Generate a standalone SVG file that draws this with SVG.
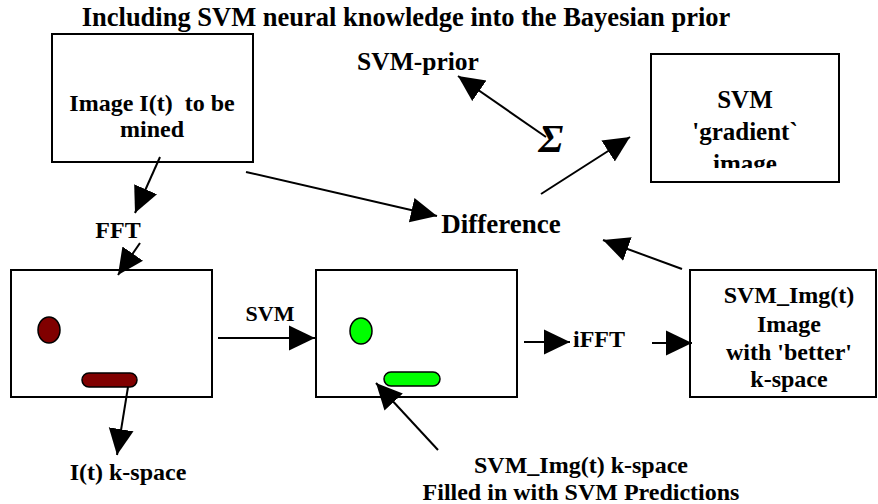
<svg xmlns="http://www.w3.org/2000/svg" width="878" height="504" viewBox="0 0 878 504">
<style>
text{font-family:"Liberation Serif","Times New Roman",serif;font-weight:bold;font-size:24px;fill:#000;text-anchor:middle}
.title{font-size:26.5px}
.big{font-size:27px}
.prior{font-size:25.5px}
.g25{font-size:25px}
.small{font-size:22px}
.sigma{font-size:40px;font-style:italic}
.box{fill:#fff;stroke:#000;stroke-width:2}
.ln{stroke:#000;stroke-width:2;fill:none;marker-end:url(#ah)}
</style>
<defs>
<marker id="ah" markerUnits="userSpaceOnUse" markerWidth="27" markerHeight="27" refX="26" refY="13" orient="auto">
<path d="M0,0.5 L26,13 L0,25.5 z" fill="#000"/>
</marker>
<clipPath id="gclip"><rect x="640" y="50" width="210" height="118"/></clipPath>
</defs>
<g id="title"><text class="title" x="406" y="26">Including SVM neural knowledge into the Bayesian prior</text></g>
<g id="image-node">
<rect class="box" x="52" y="34" width="201" height="128"/>
<text x="152" y="111" xml:space="preserve">Image I(t)  to be</text>
<text x="152" y="137">mined</text>
</g>
<g id="svm-prior"><text class="prior" x="418" y="70">SVM-prior</text></g>
<g id="sigma"><text class="sigma" x="551" y="152">Σ</text></g>
<g id="gradient-node">
<rect class="box" x="651" y="54" width="188" height="128"/>
<g clip-path="url(#gclip)">
<text class="g25" x="745" y="108">SVM</text>
<text class="g25" x="745" y="140">'gradient`</text>
<text class="g25" x="745" y="172">image</text>
</g>
</g>
<g id="fft-label"><text x="118" y="238">FFT</text></g>
<g id="difference"><text class="big" x="501" y="233">Difference</text></g>
<g id="kspace-node">
<rect class="box" x="11" y="270" width="201" height="127"/>
<ellipse cx="49" cy="330" rx="11" ry="13" fill="#800000" stroke="#000" stroke-width="1.5"/>
<rect x="82" y="373" width="55" height="14" rx="7" fill="#800000" stroke="#000" stroke-width="1.5"/>
</g>
<g id="svm-label"><text class="small" x="270" y="321">SVM</text></g>
<g id="svm-kspace-node">
<rect class="box" x="316" y="270" width="201" height="127"/>
<ellipse cx="361" cy="331" rx="11" ry="13" fill="#00ff00" stroke="#000" stroke-width="1.5"/>
<rect x="384" y="372" width="56" height="14" rx="7" fill="#00ff00" stroke="#000" stroke-width="1.5"/>
</g>
<g id="ifft-label"><text x="599" y="347">iFFT</text></g>
<g id="svm-img-node">
<rect class="box" x="690" y="270" width="186" height="127"/>
<text x="789" y="303">SVM_Img(t)</text>
<text x="789" y="332">Image</text>
<text x="789" y="360">with 'better'</text>
<text x="789" y="387">k-space</text>
</g>
<g id="it-kspace-label"><text x="128" y="480">I(t) k-space</text></g>
<g id="svm-img-kspace-label">
<text x="581" y="473">SVM_Img(t) k-space</text>
<text x="581" y="500">Filled in with SVM Predictions</text>
</g>
<g id="connectors">
<line class="ln" x1="160" y1="157" x2="135" y2="213"/>
<line class="ln" x1="140" y1="243" x2="118" y2="275"/>
<line class="ln" x1="246" y1="172" x2="437" y2="216"/>
<line class="ln" x1="546" y1="137" x2="458" y2="76"/>
<line class="ln" x1="541" y1="194" x2="630" y2="137"/>
<line class="ln" x1="682" y1="269" x2="603" y2="240"/>
<line class="ln" x1="128" y1="387" x2="117" y2="455"/>
<line class="ln" x1="218" y1="338" x2="315" y2="338"/>
<line class="ln" x1="438" y1="450" x2="376" y2="383"/>
<line class="ln" x1="524" y1="342" x2="570" y2="342"/>
<line class="ln" x1="652" y1="343" x2="692" y2="343"/>
</g>
</svg>
